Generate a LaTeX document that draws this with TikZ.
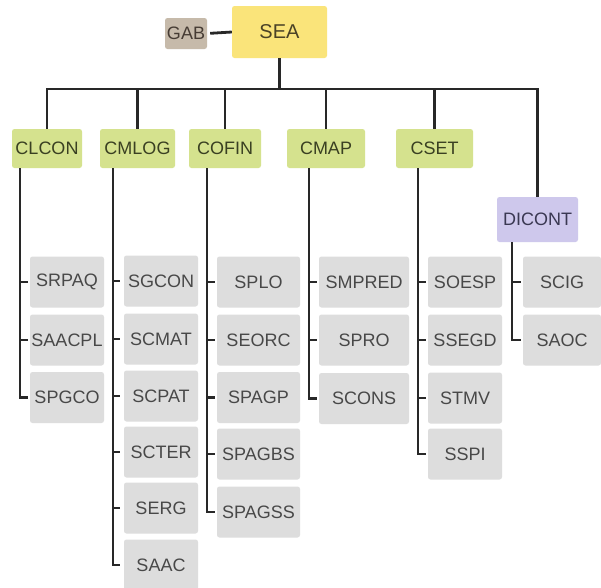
\documentclass[tikz,border=0pt]{standalone}
\usepackage{fontspec}
\setmainfont{Liberation Sans}
\begin{document}
\begin{tikzpicture}[x=1pt,y=-1pt,
  box/.style={rectangle,rounded corners=2.5pt,inner sep=0pt,font=\fontsize{18}{20}\selectfont},
  sea/.style={box,fill=seaY,text=seaT,minimum width=95pt,minimum height=52pt,font=\fontsize{20}{22}\selectfont},
  gab/.style={box,fill=gabC,text=gabT,minimum width=42pt,minimum height=31pt},
  cat/.style={box,fill=catG,text=catT,minimum height=39pt},
  dic/.style={box,fill=dicC,text=dicT,minimum width=81pt,minimum height=45pt},
  sub/.style={box,fill=subG,text=subT,minimum height=51pt},
  conn/.style={draw=lineC,line width=2.8pt},
  tick/.style={conn,shorten >=2pt}]
\definecolor{seaY}{RGB}{250,228,122}
\definecolor{seaT}{RGB}{74,66,38}
\definecolor{gabC}{RGB}{198,186,170}
\definecolor{gabT}{RGB}{70,60,52}
\definecolor{catG}{RGB}{213,226,142}
\definecolor{catT}{RGB}{58,64,34}
\definecolor{dicC}{RGB}{206,200,236}
\definecolor{dicT}{RGB}{58,56,82}
\definecolor{subG}{RGB}{221,221,221}
\definecolor{subT}{RGB}{72,72,72}
\definecolor{lineC}{RGB}{40,40,40}
\useasboundingbox (0,0) rectangle (601,587);
\clip (0,0) rectangle (601,587);
\fill[white] (0,0) rectangle (601,587);

% top
\node[sea] (SEA) at (279.5,32) {SEA};
\node[gab] (GAB) at (186,33.5) {GAB};
\draw[conn,shorten <=3pt] (GAB.east) -- (SEA.west);

% categories
\node[cat,minimum width=70pt] (CLCON) at (47,148.5) {CLCON};
\node[cat,minimum width=75pt] (CMLOG) at (137.5,148.5) {CMLOG};
\node[cat,minimum width=72pt] (COFIN) at (225,148.5) {COFIN};
\node[cat,minimum width=78pt] (CMAP) at (326,148.5) {CMAP};
\node[cat,minimum width=77pt] (CSET) at (434.5,148.5) {CSET};
\node[dic] (DICONT) at (537.5,219.5) {DICONT};

\coordinate (bar) at (0,89);
\draw[conn] (SEA.south) -- (SEA.south |- bar);
\draw[conn] (CLCON.north) -- (CLCON.north |- bar) -- (DICONT.north |- bar) -- (DICONT.north);
\foreach \n in {CMLOG,COFIN,CMAP,CSET} \draw[conn] (\n.north) -- (\n.north |- bar);

% sub boxes
\node[sub,minimum width=74pt] (SRPAQ)  at (67,282) {SRPAQ};
\node[sub,minimum width=74pt] (SAACPL) at (67,340) {SAACPL};
\node[sub,minimum width=74pt] (SPGCO)  at (67,397.5) {SPGCO};

\node[sub,minimum width=74pt] (SGCON) at (161,281) {SGCON};
\node[sub,minimum width=74pt] (SCMAT) at (161,339) {SCMAT};
\node[sub,minimum width=74pt] (SCPAT) at (161,396) {SCPAT};
\node[sub,minimum width=74pt] (SCTER) at (161,452) {SCTER};
\node[sub,minimum width=74pt] (SERG)  at (161,508) {SERG};
\node[sub,minimum width=74pt] (SAAC)  at (161,565) {SAAC};

\node[sub,minimum width=83pt] (SPLO)   at (258.5,282) {SPLO};
\node[sub,minimum width=83pt] (SEORC)  at (258.5,340) {SEORC};
\node[sub,minimum width=83pt] (SPAGP)  at (258.5,397.5) {SPAGP};
\node[sub,minimum width=83pt] (SPAGBS) at (258.5,454) {SPAGBS};
\node[sub,minimum width=83pt] (SPAGSS) at (258.5,512) {SPAGSS};

\node[sub,minimum width=90pt] (SMPRED) at (364,282) {SMPRED};
\node[sub,minimum width=90pt] (SPRO)   at (364,340) {SPRO};
\node[sub,minimum width=90pt] (SCONS)  at (364,398.5) {SCONS};

\node[sub,minimum width=74pt] (SOESP) at (465,282) {SOESP};
\node[sub,minimum width=74pt] (SSEGD) at (465,340) {SSEGD};
\node[sub,minimum width=74pt] (STMV)  at (465,398) {STMV};
\node[sub,minimum width=74pt] (SSPI)  at (465,454) {SSPI};

\node[sub,minimum width=78pt] (SCIG) at (562,282) {SCIG};
\node[sub,minimum width=78pt] (SAOC) at (562,340) {SAOC};

% spines
\coordinate (s1) at (20,0);
\coordinate (s2) at (113,0);
\coordinate (s3) at (207,0);
\coordinate (s4) at (309,0);
\coordinate (s5) at (418,0);
\coordinate (s6) at (512,0);

\draw[tick] (s1 |- CLCON.south) -- (s1 |- SPGCO.west) -- (SPGCO.west);
\foreach \n in {SRPAQ,SAACPL} \draw[tick] (s1 |- \n.west) -- (\n.west);

\draw[tick,shorten >=4pt] (s2 |- CMLOG.south) -- (s2 |- SAAC.west) -- (SAAC.west);
\foreach \n in {SGCON,SCMAT,SCPAT,SCTER,SERG} \draw[tick,shorten >=4pt] (s2 |- \n.west) -- (\n.west);

\draw[tick] (s3 |- COFIN.south) -- (s3 |- SPAGSS.west) -- (SPAGSS.west);
\foreach \n in {SPLO,SEORC,SPAGP,SPAGBS} \draw[tick] (s3 |- \n.west) -- (\n.west);

\draw[tick] (s4 |- CMAP.south) -- (s4 |- SCONS.west) -- (SCONS.west);
\foreach \n in {SMPRED,SPRO} \draw[tick] (s4 |- \n.west) -- (\n.west);

\draw[tick] (s5 |- CSET.south) -- (s5 |- SSPI.west) -- (SSPI.west);
\foreach \n in {SOESP,SSEGD,STMV} \draw[tick] (s5 |- \n.west) -- (\n.west);

\draw[tick] (s6 |- DICONT.south) -- (s6 |- SAOC.west) -- (SAOC.west);
\draw[tick] (s6 |- SCIG.west) -- (SCIG.west);
\end{tikzpicture}
\end{document}
